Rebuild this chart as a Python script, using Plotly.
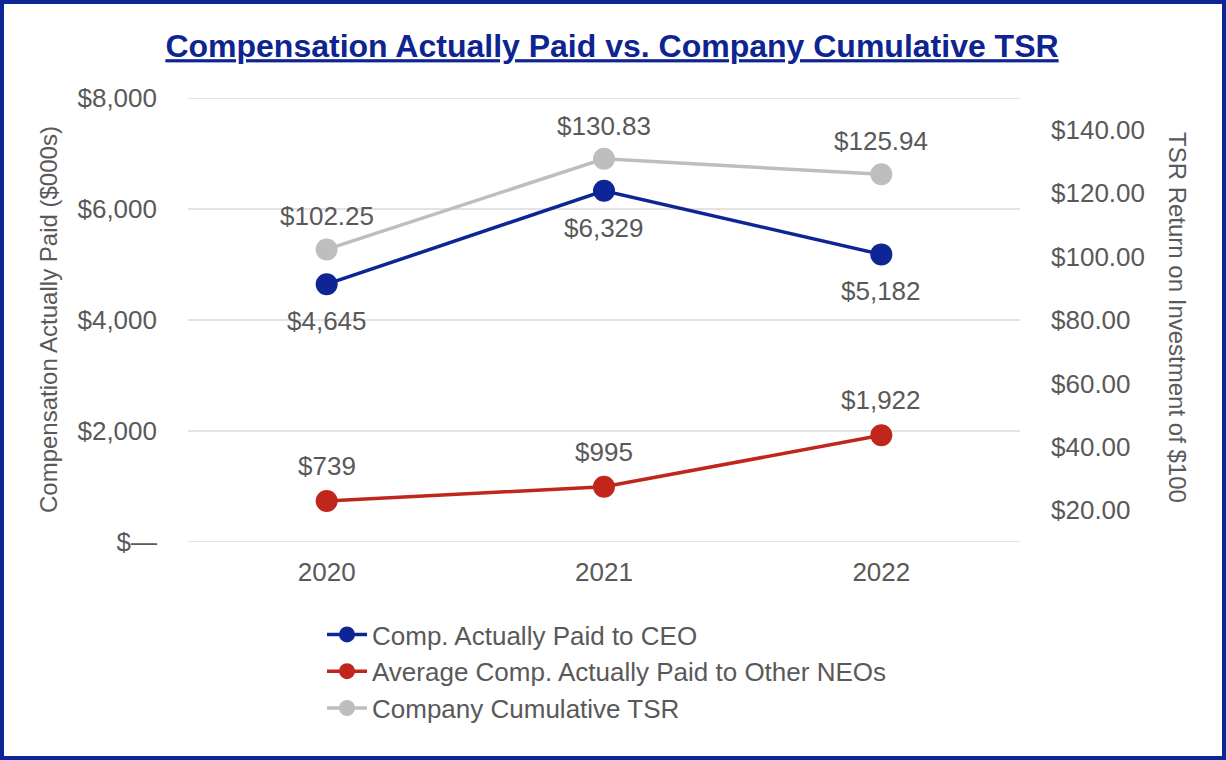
import plotly.graph_objects as go

# ---- data ----
years = ["2020", "2021", "2022"]
ceo_cap = [4645, 6329, 5182]
neo_cap = [739, 995, 1922]
tsr = [102.25, 130.83, 125.94]

ceo_labels = ["$4,645", "$6,329", "$5,182"]
neo_labels = ["$739", "$995", "$1,922"]
tsr_labels = ["$102.25", "$130.83", "$125.94"]

left_tickvals = [0, 2000, 4000, 6000, 8000]
left_ticktext = ["$\u2014", "$2,000", "$4,000", "$6,000", "$8,000"]
right_tickvals = [20, 40, 60, 80, 100, 120, 140]
right_ticktext = ["$20.00", "$40.00", "$60.00", "$80.00", "$100.00", "$120.00", "$140.00"]

series_names = ["Comp. Actually Paid to CEO",
                "Average Comp. Actually Paid to Other NEOs",
                "Company Cumulative TSR"]

# ---- style ----
FONT = "Arial, 'Liberation Sans', sans-serif"
GRAY_TXT = "#595959"
C_CEO = "#0E2596"
C_NEO = "#C0261B"
C_TSR = "#BEBEBE"
BORDER = "#0D2596"
GRID = "#E3E3E3"

W, H = 1226, 760
ML, MR, MT, MB = 188, 206, 98, 218
PW, PH = W - ML - MR, H - MT - MB

fig = go.Figure()

fig.add_trace(go.Scatter(x=years, y=ceo_cap, name=series_names[0], mode="lines+markers",
                         line=dict(color=C_CEO, width=3.5),
                         marker=dict(color=C_CEO, size=22), yaxis="y"))
fig.add_trace(go.Scatter(x=years, y=neo_cap, name=series_names[1], mode="lines+markers",
                         line=dict(color=C_NEO, width=3.5),
                         marker=dict(color=C_NEO, size=22), yaxis="y"))
fig.add_trace(go.Scatter(x=years, y=tsr, name=series_names[2], mode="lines+markers",
                         line=dict(color=C_TSR, width=3.5),
                         marker=dict(color=C_TSR, size=22), yaxis="y2"))

annotations = []
lab_font = dict(size=26, color=GRAY_TXT, family=FONT)
for i, (yv, t) in enumerate(zip(ceo_cap, ceo_labels)):
    annotations.append(dict(x=i, y=yv, xref="x", yref="y", text=t, showarrow=False,
                            yshift=-37, font=lab_font))
for i, (yv, t) in enumerate(zip(neo_cap, neo_labels)):
    annotations.append(dict(x=i, y=yv, xref="x", yref="y", text=t, showarrow=False,
                            yshift=35, font=lab_font))
for i, (yv, t) in enumerate(zip(tsr, tsr_labels)):
    annotations.append(dict(x=i, y=yv, xref="x", yref="y2", text=t, showarrow=False,
                            yshift=33, font=lab_font))

# axis titles
annotations.append(dict(text="Compensation Actually Paid ($000s)", xref="paper", yref="paper",
                        x=(48 - ML) / PW, y=(MT + PH - 320) / PH, showarrow=False, textangle=-90,
                        xanchor="center", yanchor="middle",
                        font=dict(size=24, color=GRAY_TXT, family=FONT)))
annotations.append(dict(text="TSR Return on Investment of $100", xref="paper", yref="paper",
                        x=(1178 - ML) / PW, y=(MT + PH - 317) / PH, showarrow=False, textangle=90,
                        xanchor="center", yanchor="middle",
                        font=dict(size=24, color=GRAY_TXT, family=FONT)))

# horizontal gridlines (drawn as shapes so the edge lines also show)
shapes = [dict(type="line", xref="paper", yref="y", x0=0, x1=1, y0=v, y1=v,
               line=dict(color=GRID, width=2), layer="below") for v in left_tickvals]
shapes.append(dict(type="rect", xref="paper", yref="paper",
                   x0=(2 - ML) / PW, x1=(W - 2 - ML) / PW,
                   y0=(MT + PH - (H - 2)) / PH, y1=(MT + PH - 2) / PH,
                   line=dict(color=BORDER, width=4), fillcolor="rgba(0,0,0,0)", layer="above"))

fig.update_layout(
    width=W, height=H, autosize=False,
    margin=dict(l=ML, r=MR, t=MT, b=MB),
    paper_bgcolor="white", plot_bgcolor="white",
    font=dict(family=FONT, size=26, color=GRAY_TXT),
    title=dict(text="<b><u>Compensation Actually Paid vs. Company Cumulative TSR</u></b>",
               x=612 / W, xref="container", xanchor="center",
               y=1 - 46 / H, yref="container", yanchor="middle",
               font=dict(family=FONT, size=32, color="#0D2491")),
    xaxis=dict(type="category", range=[-0.5, 2.5], showgrid=False, showline=False,
               zeroline=False, ticks="", tickfont=dict(size=26, color=GRAY_TXT),
               ticklabelstandoff=12),
    yaxis=dict(range=[0, 8000], tickvals=left_tickvals, ticktext=left_ticktext,
               showgrid=False, zeroline=False,
               showline=False, ticks="", tickfont=dict(size=26, color=GRAY_TXT),
               ticklabelstandoff=30),
    yaxis2=dict(range=[10, 150], tickvals=right_tickvals, ticktext=right_ticktext,
                overlaying="y", side="right", showgrid=False, zeroline=False,
                showline=False, ticks="", tickfont=dict(size=26, color=GRAY_TXT),
                ticklabelstandoff=30),
    legend=dict(x=(322 - ML) / PW, xanchor="left", y=(MT + PH - 611) / PH, yanchor="top",
                orientation="v", font=dict(size=26, color=GRAY_TXT, family=FONT),
                bgcolor="rgba(0,0,0,0)", tracegroupgap=0, itemsizing="trace",
                itemwidth=40),
    showlegend=True,
    annotations=annotations,
    shapes=shapes,
)

fig.write_html("out.html")
